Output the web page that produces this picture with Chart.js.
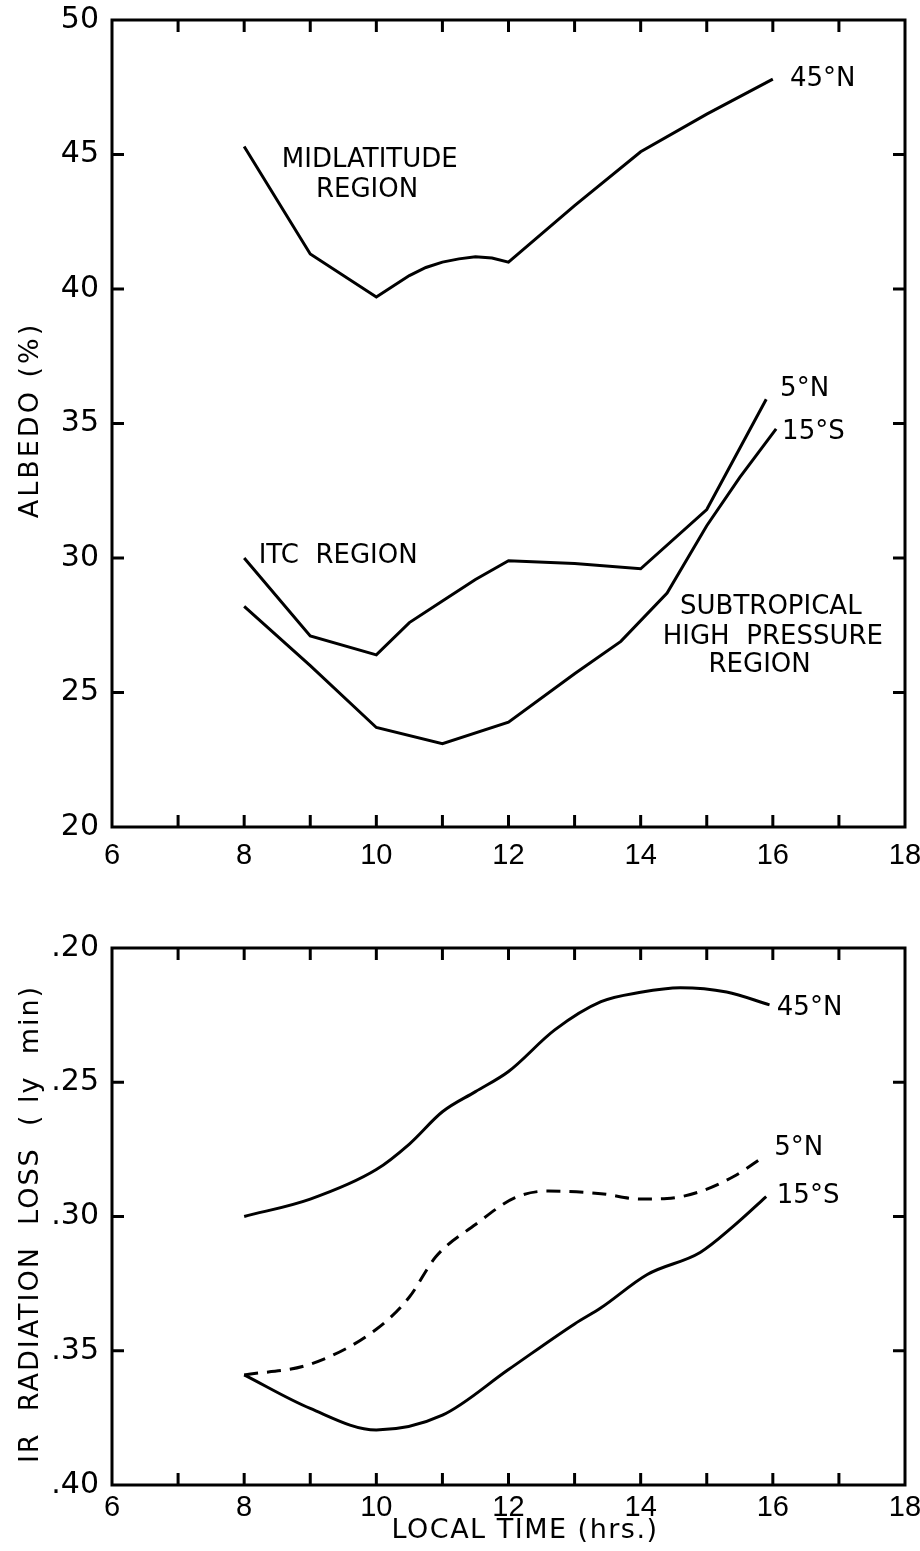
<!DOCTYPE html>
<html>
<head>
  <title>Albedo and IR radiation loss</title>
  <script src="https://cdn.jsdelivr.net/npm/chart.js@4.4.0/dist/chart.umd.min.js"></script>
  <style>
    body { margin: 0; background: #fff; }
    canvas { position: absolute; left: 0; }
  </style>
</head>
<body>
  <canvas id="albedoChart" width="920" height="880" style="top:0"></canvas>
  <canvas id="irChart" width="920" height="671" style="top:880px"></canvas>

  <script>
    // top panel: albedo (%) vs local time
    var midlatHours = [8, 9, 10, 10.25, 10.5, 10.75, 11, 11.25, 11.5, 11.75, 12, 13, 14, 15, 16];
    var midlatAlbedo = [45.3, 41.3, 39.7, 40.1, 40.5, 40.8, 41.0, 41.12, 41.2, 41.15, 41.0, 43.1, 45.1, 46.5, 47.8];

    var itcHours = [8, 9, 10, 10.5, 11, 11.5, 12, 13, 14, 15, 15.9];
    var itcAlbedo = [30.0, 27.1, 26.4, 27.6, 28.4, 29.2, 29.9, 29.8, 29.6, 31.8, 35.9];

    var subtropHours = [8, 9, 10, 11, 12, 13, 13.7, 14.4, 15, 15.5, 16.05];
    var subtropAlbedo = [28.2, 26.0, 23.7, 23.1, 23.9, 25.7, 26.9, 28.7, 31.2, 33.0, 34.8];

    // bottom panel: IR radiation loss (ly/min) vs local time
    var n45Hours = [8, 9, 10, 10.5, 11, 11.5, 12, 12.7, 13.4, 14, 14.6, 15.3, 15.95];
    var n45Loss = [0.300, 0.2935, 0.2825, 0.273, 0.261, 0.2535, 0.246, 0.2305, 0.220, 0.2165, 0.2148, 0.2164, 0.2212];

    var n5Hours = [8, 9, 10, 10.5, 10.9, 11.5, 12.1, 12.6, 13.4, 14, 14.4, 14.9, 15.4, 15.85];
    var n5Loss = [0.359, 0.355, 0.342, 0.330, 0.315, 0.303, 0.293, 0.2905, 0.2915, 0.2935, 0.2933, 0.2907, 0.2852, 0.278];

    var s15Hours = [8, 9, 10, 11, 12, 13, 13.4, 14.1, 14.9, 15.4, 15.9];
    var s15Loss = [0.359, 0.3715, 0.3795, 0.374, 0.357, 0.340, 0.334, 0.3216, 0.3134, 0.3037, 0.2926];

    var hourTicks = [6, 8, 10, 12, 14, 16, 18];

    var albedoNotes = [
      { text: 'MIDLATITUDE', x: 9.90, y: 44.80, align: 'center' },
      { text: 'REGION', x: 9.86, y: 43.68, align: 'center' },
      { text: '45°N', x: 16.26, y: 47.81, align: 'left' },
      { text: '5°N', x: 16.11, y: 36.28, align: 'left' },
      { text: '15°S', x: 16.14, y: 34.68, align: 'left' },
      { text: 'ITC  REGION', x: 8.22, y: 30.07, align: 'left' },
      { text: 'SUBTROPICAL', x: 15.97, y: 28.18, align: 'center' },
      { text: 'HIGH  PRESSURE', x: 16.0, y: 27.06, align: 'center' },
      { text: 'REGION', x: 15.8, y: 26.02, align: 'center' }
    ];

    var irNotes = [
      { text: '45°N', x: 16.06, y: 0.2223, align: 'left' },
      { text: '5°N', x: 16.02, y: 0.2747, align: 'left' },
      { text: '15°S', x: 16.06, y: 0.2926, align: 'left' }
    ];

    var FONT = "'DejaVu Sans', 'Liberation Sans', sans-serif";
    var XFONT = "'Liberation Sans', Arial, sans-serif";

    function pts(xs, ys) {
      return xs.map(function(x, i) { return { x: x, y: ys[i] }; });
    }

    function line(ctx, x1, y1, x2, y2) {
      ctx.beginPath();
      ctx.moveTo(x1, y1);
      ctx.lineTo(x2, y2);
      ctx.stroke();
    }

    // box, inward ticks, curve labels and axis titles
    var frame = {
      id: 'frame',
      afterDraw: function(chart, args, opts) {
        var ctx = chart.ctx, a = chart.chartArea;
        var xs = chart.scales.x, ys = chart.scales.y;
        ctx.save();
        ctx.strokeStyle = '#000';
        ctx.lineWidth = 3;
        ctx.strokeRect(a.left, a.top, a.width, a.height);
        xs.ticks.forEach(function(t) {
          if (t.value <= xs.min || t.value >= xs.max) return;
          var px = xs.getPixelForValue(t.value);
          line(ctx, px, a.bottom, px, a.bottom - 12);
          line(ctx, px, a.top, px, a.top + 12);
        });
        ys.ticks.forEach(function(t) {
          var py = ys.getPixelForValue(t.value);
          if (Math.abs(py - a.top) < 2 || Math.abs(py - a.bottom) < 2) return;
          line(ctx, a.left, py, a.left + 12, py);
          line(ctx, a.right, py, a.right - 12, py);
        });

        ctx.fillStyle = '#000';
        ctx.font = '26px ' + FONT;
        ctx.textBaseline = 'middle';
        (opts.notes || []).forEach(function(n) {
          ctx.textAlign = n.align;
          ctx.fillText(n.text, xs.getPixelForValue(n.x), ys.getPixelForValue(n.y));
        });

        ctx.font = '27px ' + FONT;
        if (opts.yTitle) {
          ctx.save();
          ctx.translate(opts.yTitle.x, opts.yTitle.y);
          ctx.rotate(-Math.PI / 2);
          ctx.textAlign = 'center';
          ctx.letterSpacing = opts.yTitle.spacing;
          ctx.fillText(opts.yTitle.text, 0, 0);
          ctx.restore();
        }
        if (opts.xTitle) {
          ctx.textAlign = 'center';
          ctx.letterSpacing = opts.xTitle.spacing;
          ctx.fillText(opts.xTitle.text, opts.xTitle.x, opts.xTitle.y);
        }
        ctx.restore();
      }
    };

    function makeOptions(yMin, yMax, yStep, reverse, yFormat, axisHeight, pad, xPad, frameOpts) {
      return {
        responsive: false,
        animation: false,
        layout: { padding: { top: pad, right: 15, left: 0, bottom: 0 } },
        plugins: { legend: { display: false }, tooltip: { enabled: false }, frame: frameOpts },
        elements: { point: { radius: 0 } },
        scales: {
          x: {
            type: 'linear', min: 6, max: 18,
            grid: { display: false, drawTicks: false },
            border: { display: false },
            afterFit: function(s) { s.height = axisHeight; s.paddingLeft = 0; s.paddingRight = 0; },
            ticks: {
              stepSize: 1, autoSkip: false, maxRotation: 0, padding: xPad,
              color: '#000', font: { family: XFONT, size: 29 },
              callback: function(v) { return hourTicks.indexOf(v) >= 0 ? String(v) : ''; }
            }
          },
          y: {
            type: 'linear', min: yMin, max: yMax, reverse: reverse,
            grid: { display: false, drawTicks: false },
            border: { display: false },
            afterFit: function(s) { s.width = 112; s.paddingTop = 0; s.paddingBottom = 0; },
            ticks: {
              stepSize: yStep, padding: 13,
              color: '#000', font: { family: FONT, size: 30 },
              callback: yFormat
            }
          }
        }
      };
    }

    function curve(data, dash, tension) {
      return {
        data: data,
        borderColor: '#000',
        borderWidth: 3,
        borderDash: dash || [],
        tension: tension || 0,
        cubicInterpolationMode: tension ? 'monotone' : 'default',
        fill: false
      };
    }

    new Chart(document.getElementById('albedoChart'), {
      type: 'line',
      data: {
        datasets: [
          curve(pts(midlatHours, midlatAlbedo)),
          curve(pts(itcHours, itcAlbedo)),
          curve(pts(subtropHours, subtropAlbedo))
        ]
      },
      options: makeOptions(20, 50, 5, false, function(v) { return String(v); }, 53, 20, 12, {
        notes: albedoNotes,
        yTitle: { text: 'ALBEDO (%)', x: 31, y: 420, spacing: '3px' }
      }),
      plugins: [frame]
    });

    new Chart(document.getElementById('irChart'), {
      type: 'line',
      data: {
        datasets: [
          curve(pts(n45Hours, n45Loss), null, 0.4),
          curve(pts(n5Hours, n5Loss), [14, 9], 0.4),
          curve(pts(s15Hours, s15Loss), null, 0.4)
        ]
      },
      options: makeOptions(0.2, 0.4, 0.05, true, function(v) { return '.' + Math.round(v * 100); }, 66, 68, 6, {
        notes: irNotes,
        yTitle: { text: 'IR  RADIATION  LOSS  ( ly  min)', x: 31, y: 344, spacing: '2px' },
        xTitle: { text: 'LOCAL TIME (hrs.)', x: 525, y: 651, spacing: '1.5px' }
      }),
      plugins: [frame]
    });
  </script>
</body>
</html>
